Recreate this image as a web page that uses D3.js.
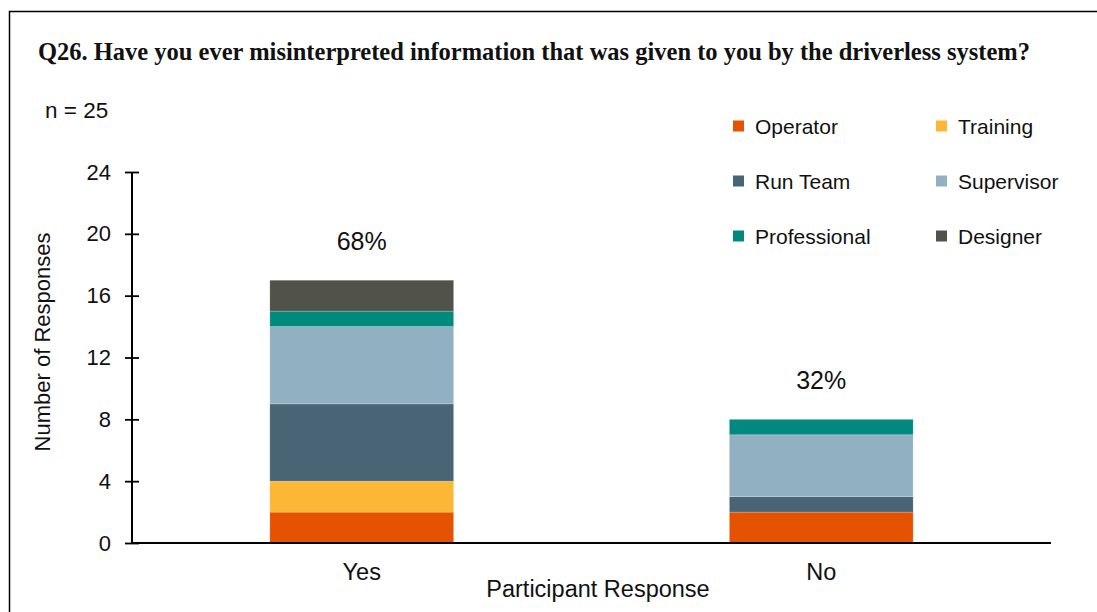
<!DOCTYPE html>
<html>
<head>
<meta charset="utf-8">
<script src="https://cdn.jsdelivr.net/npm/d3@7"></script>
<style>
  html, body { margin: 0; padding: 0; background: #fff; }
  svg { display: block; }
</style>
</head>
<body>
<svg id="chart" width="1097" height="612"></svg>
<script>
// Survey responses to Q26, stacked by participant role
const categories = ["Yes", "No"];
const roles = ["Operator", "Training", "Run Team", "Supervisor", "Professional", "Designer"];
const roleColors = ["#E65300", "#FBB735", "#486475", "#91B1C2", "#00897F", "#51534A"];
const operatorCounts = [2, 2];
const trainingCounts = [2, 0];
const runTeamCounts = [5, 1];
const supervisorCounts = [5, 4];
const professionalCounts = [1, 1];
const designerCounts = [2, 0];
const percentLabels = ["68%", "32%"];
const yTicks = [0, 4, 8, 12, 16, 20, 24];
const totalN = 25;

const seriesValues = [operatorCounts, trainingCounts, runTeamCounts, supervisorCounts, professionalCounts, designerCounts];
const rows = categories.map((c, i) => {
  const r = { category: c };
  roles.forEach((role, k) => { r[role] = seriesValues[k][i]; });
  return r;
});

const svg = d3.select("#chart");
const sans = "Arial, 'Liberation Sans', Helvetica, sans-serif";

// outer frame
svg.append("rect")
  .attr("x", 9.5).attr("y", 11.5)
  .attr("width", 1200).attr("height", 700)
  .attr("fill", "none").attr("stroke", "#000").attr("stroke-width", 1.5);

// title
svg.append("text")
  .attr("x", 38).attr("y", 60)
  .attr("font-family", "'Times New Roman', 'Liberation Serif', serif")
  .attr("font-weight", "bold").attr("font-size", 24.5)
  .attr("fill", "#111")
  .text("Q26. Have you ever misinterpreted information that was given to you by the driverless system?");

svg.append("text")
  .attr("x", 45).attr("y", 118)
  .attr("font-family", sans).attr("font-size", 22.5)
  .attr("fill", "#111")
  .text("n = " + totalN);

const x0 = 132, x1 = 1051, yBase = 543, yTop = 172;
const x = d3.scaleBand().domain(categories).range([x0, x1]).paddingInner(0.6).paddingOuter(0.3);
const y = d3.scaleLinear().domain([0, 24]).range([yBase, yTop]);

const stack = d3.stack().keys(roles)(rows);

// stacked bars
svg.append("g").selectAll("g")
  .data(stack)
  .join("g")
  .attr("fill", (d, i) => roleColors[i])
  .selectAll("rect")
  .data(d => d)
  .join("rect")
  .attr("x", d => x(d.data.category))
  .attr("width", x.bandwidth())
  .attr("y", d => y(d[1]))
  .attr("height", d => y(d[0]) - y(d[1]))
  .attr("stroke", "rgba(255,255,255,0.35)")
  .attr("stroke-width", 0.6);

// y axis
const yAxis = svg.append("g")
  .attr("transform", `translate(${x0},0)`)
  .call(d3.axisLeft(y).tickValues(yTicks).tickSize(7).tickPadding(14));
yAxis.select(".domain").attr("stroke", "#000").attr("stroke-width", 2);
yAxis.selectAll(".tick line").attr("stroke", "#000").attr("stroke-width", 1.8).attr("x2", 7).attr("x1", -7);
yAxis.selectAll(".tick text")
  .attr("font-family", sans).attr("font-size", 22).attr("fill", "#111");
yAxis.select(".domain").attr("d", `M0,${yTop}V${yBase}`);

// x axis
const xAxis = svg.append("g")
  .attr("transform", `translate(0,${yBase})`)
  .call(d3.axisBottom(x).tickSize(0).tickPadding(20));
xAxis.select(".domain").attr("stroke", "#000").attr("stroke-width", 2).attr("d", `M${x0},0H${x1}`);
xAxis.selectAll(".tick text")
  .attr("font-family", sans).attr("font-size", 23.5).attr("fill", "#111");

// percentage labels above bars
const totals = rows.map(r => d3.sum(roles, k => r[k]));
svg.append("g").selectAll("text")
  .data(categories)
  .join("text")
  .attr("x", d => x(d) + x.bandwidth() / 2)
  .attr("y", (d, i) => y(totals[i]) - 30)
  .attr("text-anchor", "middle")
  .attr("font-family", sans).attr("font-size", 25).attr("fill", "#111")
  .text((d, i) => percentLabels[i]);

// axis titles
svg.append("text")
  .attr("x", 598).attr("y", 597)
  .attr("text-anchor", "middle")
  .attr("font-family", sans).attr("font-size", 23.5).attr("fill", "#111")
  .text("Participant Response");

svg.append("text")
  .attr("transform", `translate(50,342) rotate(-90)`)
  .attr("text-anchor", "middle")
  .attr("font-family", sans).attr("font-size", 22).attr("fill", "#111")
  .text("Number of Responses");

// legend, two columns
const legend = svg.append("g").selectAll("g")
  .data(roles)
  .join("g")
  .attr("transform", (d, i) => `translate(${i % 2 === 0 ? 733 : 936},${126 + Math.floor(i / 2) * 55})`);
legend.append("rect")
  .attr("x", 0).attr("y", -5.5).attr("width", 11).attr("height", 11)
  .attr("fill", (d, i) => roleColors[i]);
legend.append("text")
  .attr("x", 22).attr("y", 7.5)
  .attr("font-family", sans).attr("font-size", 21).attr("fill", "#111")
  .text(d => d);
</script>
</body>
</html>
